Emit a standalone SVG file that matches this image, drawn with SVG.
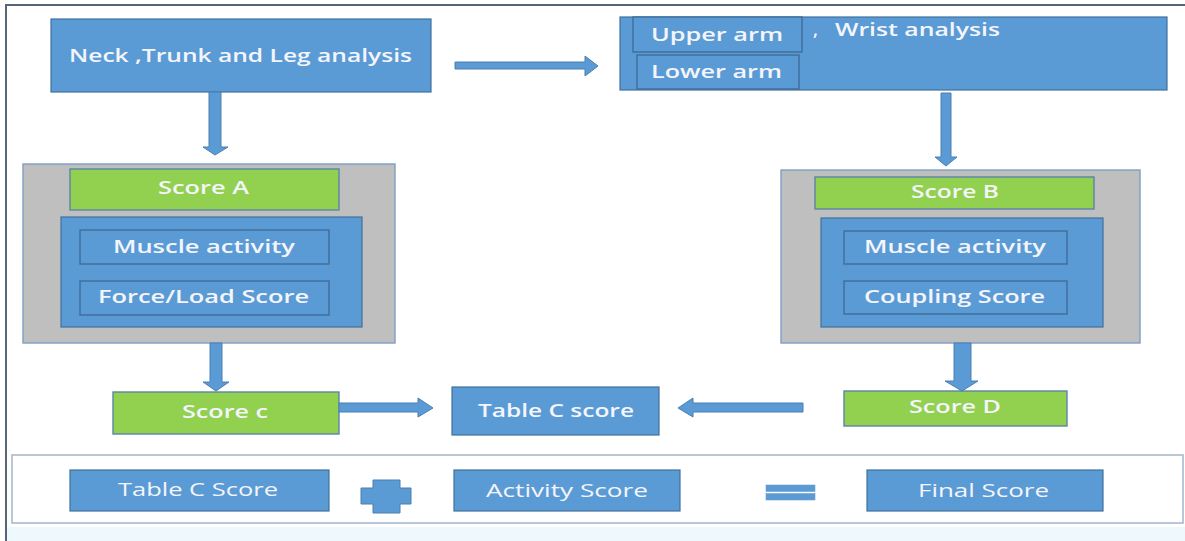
<svg xmlns="http://www.w3.org/2000/svg" width="1185" height="541" viewBox="0 0 1185 541">
  <style>
    .blue { fill: #5b9bd5; stroke: #41719c; stroke-width: 1.2; }
    .inner { fill: #5b9bd5; stroke: #3f6d99; stroke-width: 1.4; }
    .green { fill: #92d050; stroke: #5d84a8; stroke-width: 1.4; }
    .gray { fill: #bfbfbf; stroke: #7f9fc4; stroke-width: 1.4; }
    .arrow { fill: #5b9bd5; stroke: #4a7fb0; stroke-width: 1; }
    .t { font-family: "Open Sans", "Liberation Sans", sans-serif; font-size: 18px; font-weight: 600; fill: #f4f5fb; }
    .b { font-family: "Open Sans", "Liberation Sans", sans-serif; font-size: 18px; fill: #f4f5fb; }
  </style>

  <!-- page background and frame -->
  <rect x="0" y="0" width="1185" height="541" fill="#ffffff"/>
  <rect x="7" y="527" width="1178" height="14" fill="#eef8fd"/>
  <line x1="5" y1="5" x2="1185" y2="5" stroke="#566579" stroke-width="2"/>
  <line x1="6" y1="5" x2="6" y2="541" stroke="#566579" stroke-width="2"/>

  <!-- top left: neck, trunk and leg -->
  <g id="neck-trunk-leg">
    <rect class="blue" x="51" y="19" width="380" height="73"/>
    <text class="t" x="69" y="62" textLength="343" lengthAdjust="spacingAndGlyphs">Neck ,Trunk and Leg analysis</text>
  </g>

  <!-- top right: arm and wrist -->
  <g id="arm-wrist">
    <rect class="blue" x="620" y="17" width="547" height="73"/>
    <text class="t" x="813" y="36">,</text>
    <text class="t" x="835" y="36" textLength="165" lengthAdjust="spacingAndGlyphs">Wrist analysis</text>
  </g>
  <g id="upper-arm">
    <rect class="inner" x="633" y="17" width="169" height="35"/>
    <text class="t" x="651" y="41" textLength="132" lengthAdjust="spacingAndGlyphs">Upper arm</text>
  </g>
  <g id="lower-arm">
    <rect class="inner" x="637" y="55" width="162" height="34"/>
    <text class="t" x="651" y="78" textLength="131" lengthAdjust="spacingAndGlyphs">Lower arm</text>
  </g>

  <!-- left group -->
  <g id="group-a">
    <rect class="gray" x="23" y="164" width="372" height="179"/>
  </g>
  <g id="score-a">
    <rect class="green" x="70" y="169" width="269" height="41"/>
    <text class="t" x="158" y="194" textLength="91" lengthAdjust="spacingAndGlyphs">Score A</text>
  </g>
  <g id="panel-a">
    <rect class="blue" x="61" y="217" width="301" height="110"/>
  </g>
  <g id="muscle-activity-a">
    <rect class="inner" x="80" y="230" width="249" height="34"/>
    <text class="t" x="113" y="253" textLength="182" lengthAdjust="spacingAndGlyphs">Muscle activity</text>
  </g>
  <g id="force-load">
    <rect class="inner" x="80" y="281" width="249" height="34"/>
    <text class="t" x="98" y="303" textLength="211" lengthAdjust="spacingAndGlyphs">Force/Load Score</text>
  </g>

  <!-- right group -->
  <g id="group-b">
    <rect class="gray" x="781" y="170" width="359" height="173"/>
  </g>
  <g id="score-b">
    <rect class="green" x="815" y="177" width="279" height="32"/>
    <text class="t" x="911" y="198" textLength="88" lengthAdjust="spacingAndGlyphs">Score B</text>
  </g>
  <g id="panel-b">
    <rect class="blue" x="821" y="218" width="282" height="109"/>
  </g>
  <g id="muscle-activity-b">
    <rect class="inner" x="844" y="231" width="223" height="33"/>
    <text class="t" x="864" y="253" textLength="182" lengthAdjust="spacingAndGlyphs">Muscle activity</text>
  </g>
  <g id="coupling">
    <rect class="inner" x="844" y="281" width="223" height="33"/>
    <text class="t" x="864" y="303" textLength="181" lengthAdjust="spacingAndGlyphs">Coupling Score</text>
  </g>

  <!-- middle row -->
  <g id="score-c">
    <rect class="green" x="113" y="392" width="226" height="42"/>
    <text class="t" x="182" y="418" textLength="86" lengthAdjust="spacingAndGlyphs">Score c</text>
  </g>
  <g id="table-c">
    <rect class="blue" x="452" y="387" width="207" height="48"/>
    <text class="t" x="478" y="417" textLength="156" lengthAdjust="spacingAndGlyphs">Table C score</text>
  </g>
  <g id="score-d">
    <rect class="green" x="844" y="391" width="223" height="35"/>
    <text class="t" x="909" y="413" textLength="92" lengthAdjust="spacingAndGlyphs">Score D</text>
  </g>

  <!-- connectors -->
  <g id="connectors">
    <polygon class="arrow" points="209,92 221,92 221,147 228,147 215,155 203,147 209,147"/>
    <polygon class="arrow" points="455,62 585,62 585,56 598,66 585,76 585,69 455,69"/>
    <polygon class="arrow" points="941,93 951,93 951,157 957,157 946,166 935,157 941,157"/>
    <polygon class="arrow" points="210,343 222,343 222,382 229,382 216,391 203,382 210,382"/>
    <polygon class="arrow" points="954,343 971,343 971,381 978,381 962,391 945,381 954,381"/>
    <polygon class="arrow" points="339,403 418,403 418,398 433,408 418,417 418,412 339,412"/>
    <polygon class="arrow" points="803,403 693,403 693,398 678,408 693,417 693,412 803,412"/>
  </g>

  <!-- bottom equation -->
  <g id="equation-panel">
    <rect x="12" y="455" width="1171" height="68" fill="#ffffff" stroke="#a3b7cc" stroke-width="1.5"/>
  </g>
  <g id="table-c-score">
    <rect class="blue" x="70" y="470" width="259" height="41"/>
    <text class="b" x="118" y="496" textLength="160" lengthAdjust="spacingAndGlyphs">Table C Score</text>
  </g>
  <g id="plus">
    <polygon class="arrow" points="373,480 400,480 400,488 411,488 411,504 400,504 400,513 373,513 373,504 361,504 361,488 373,488"/>
  </g>
  <g id="activity-score">
    <rect class="blue" x="454" y="470" width="226" height="41"/>
    <text class="b" x="486" y="497" textLength="162" lengthAdjust="spacingAndGlyphs">Activity Score</text>
  </g>
  <g id="equals">
    <rect x="766" y="485" width="49" height="6.5" fill="#5b9bd5" stroke="#6f9fcc" stroke-width="0.6"/>
    <rect x="766" y="493.5" width="49" height="6.5" fill="#5b9bd5" stroke="#6f9fcc" stroke-width="0.6"/>
  </g>
  <g id="final-score">
    <rect class="blue" x="867" y="470" width="236" height="41"/>
    <text class="b" x="918" y="497" textLength="131" lengthAdjust="spacingAndGlyphs">Final Score</text>
  </g>
</svg>
